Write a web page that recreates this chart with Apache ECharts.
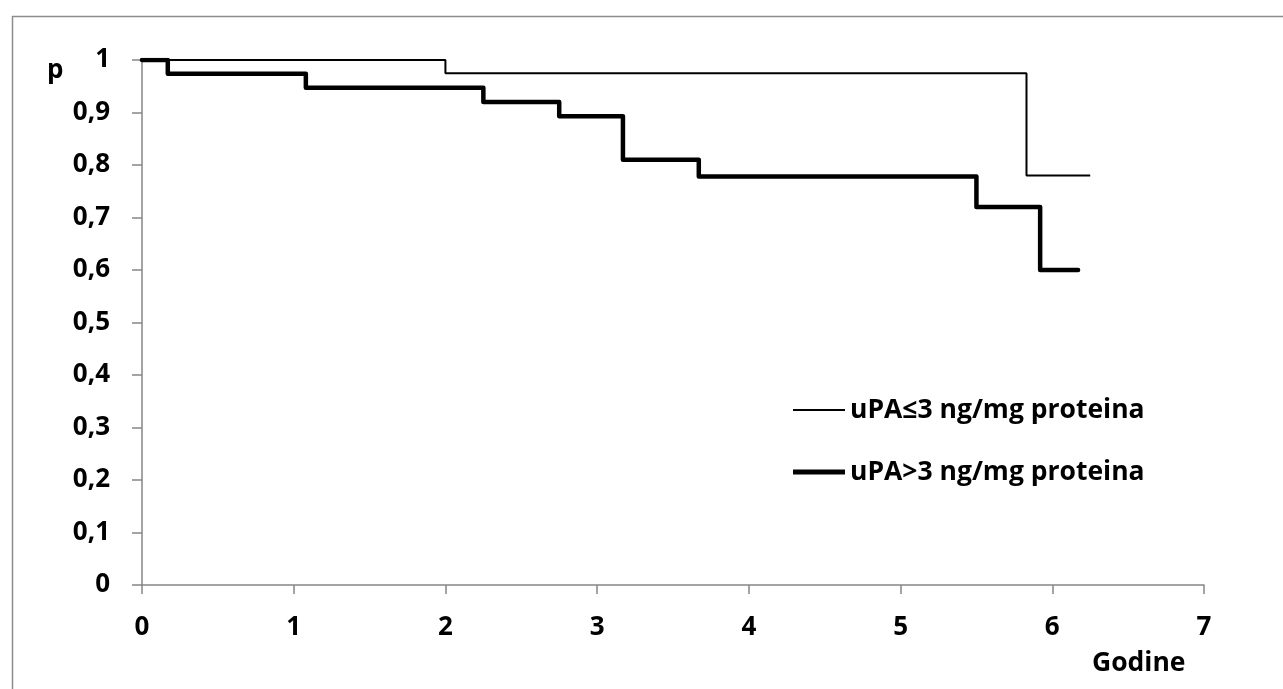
<!DOCTYPE html>
<html>
<head>
<meta charset="utf-8">
<style>
  html, body { margin: 0; padding: 0; background: #fff; }
  #chart { width: 1283px; height: 689px; }
</style>
<script src="https://cdn.jsdelivr.net/npm/echarts@6/dist/echarts.min.js"></script>
</head>
<body>
<div id="chart"></div>
<script>
// Kaplan-Meier krivulje, vrijednosti očitane sa slike
var nizakNaziv = 'uPA≤3 ng/mg proteina'
var visokNaziv = 'uPA>3 ng/mg proteina'

// [godine, p]
var nizakUpa = [[0, 1], [2.0, 0.975], [5.83, 0.78], [6.25, 0.78]]
var visokUpa = [
  [0, 1], [0.17, 0.974], [1.08, 0.947], [2.25, 0.92], [2.75, 0.893],
  [3.17, 0.81], [3.67, 0.778], [5.5, 0.72], [5.92, 0.6], [6.17, 0.6]
]

var font = '"Open Sans", "DejaVu Sans", sans-serif'
var osi = '#868686'

var myChart = echarts.init(document.getElementById('chart'))

var tekst = { fontFamily: font, fontWeight: 'bold', fontSize: 26.5, color: '#000', lineHeight: 30 }

var option = {
  animation: false,
  backgroundColor: '#fff',
  grid: { left: 142, right: 79, top: 60, bottom: 104 },
  legend: [
    {
      data: [nizakNaziv],
      left: 788, top: 390,
      icon: 'rect', itemWidth: 52, itemHeight: 2,
      textStyle: tekst
    },
    {
      data: [visokNaziv],
      left: 788, top: 452,
      icon: 'rect', itemWidth: 52, itemHeight: 5,
      textStyle: tekst
    }
  ],
  xAxis: {
    type: 'value', min: 0, max: 7, interval: 1,
    axisLine: { lineStyle: { color: osi, width: 1.5 } },
    axisTick: { show: true, length: 9, lineStyle: { color: osi, width: 1.5 } },
    splitLine: { show: false },
    axisLabel: { margin: 30, fontFamily: font, fontWeight: 'bold', fontSize: 26, color: '#000' }
  },
  yAxis: {
    type: 'value', min: 0, max: 1, interval: 0.1,
    axisLine: { show: true, lineStyle: { color: osi, width: 1.5 } },
    axisTick: { show: true, length: 10, lineStyle: { color: osi, width: 1.5 } },
    splitLine: { show: false },
    axisLabel: {
      margin: 32, fontFamily: font, fontWeight: 'bold', fontSize: 26, color: '#000',
      formatter: function (v) { return v === 0 || v === 1 ? String(v) : v.toFixed(1).replace('.', ',') }
    }
  },
  graphic: [
    { type: 'rect', left: 10, top: 14, silent: true,
      shape: { width: 1400, height: 800 },
      style: { fill: 'none', stroke: '#8c8c8c', lineWidth: 1.5 } },
    { type: 'text', left: 47, top: 58,
      style: { text: 'p', font: 'bold 26px ' + font, fill: '#000' } },
    { type: 'text', left: 1092, top: 650,
      style: { text: 'Godine', font: 'bold 26.5px ' + font, fill: '#000' } }
  ],
  series: [
    {
      name: nizakNaziv, type: 'line', step: 'end', showSymbol: false,
      data: nizakUpa,
      itemStyle: { color: '#000' },
      lineStyle: { color: '#000', width: 2 }
    },
    {
      name: visokNaziv, type: 'line', step: 'end', showSymbol: false,
      data: visokUpa,
      itemStyle: { color: '#000' },
      lineStyle: { color: '#000', width: 4.5, cap: 'round', join: 'round' }
    }
  ]
}

myChart.setOption(option)
window.addEventListener('resize', function () { myChart.resize() }, false)
</script>
</body>
</html>
